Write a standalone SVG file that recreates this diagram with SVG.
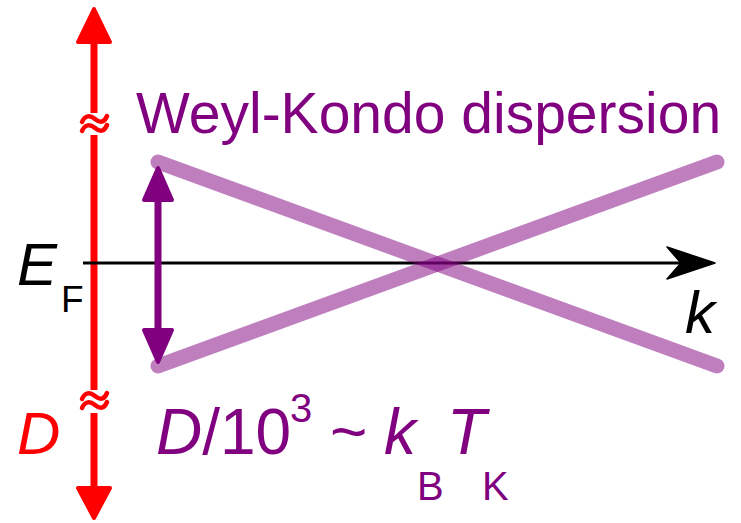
<svg xmlns="http://www.w3.org/2000/svg" width="741" height="523" viewBox="0 0 741 523">
<style>
text{font-family:"Liberation Sans",Arial,sans-serif}
.it{font-style:italic}
.pur{fill:#800080}
.red{fill:#ff0000}
.blk{fill:#000}
.band{fill:none;stroke:#800080;stroke-opacity:0.5;stroke-width:15;stroke-linecap:round}
.wave{fill:none;stroke:#ff0000;stroke-width:4.5;stroke-linecap:round}
</style>
<rect width="741" height="523" fill="#fff"/>
<g id="connectors">
<g id="energy-axis">
<line x1="94" y1="40" x2="94" y2="490" stroke="#ff0000" stroke-width="7"/>
<polygon points="94,9 78,42 110,42" fill="#ff0000" stroke="#ff0000" stroke-width="4" stroke-linejoin="round"/>
<polygon points="94,518 78,488 110,488" fill="#ff0000" stroke="#ff0000" stroke-width="4" stroke-linejoin="round"/>
<rect x="80" y="113" width="30" height="22" fill="#fff"/>
<path class="wave" d="M82,122 C85,115 90,115 95,119 S104,123 107,116"/>
<path class="wave" d="M82,131 C85,124 90,124 95,128 S104,132 107,125"/>
<rect x="80" y="390" width="30" height="23" fill="#fff"/>
<path class="wave" d="M82,399 C85,392 90,392 95,396 S104,400 107,393"/>
<path class="wave" d="M82,408 C85,401 90,401 95,405 S104,409 107,402"/>
</g>
<g id="k-axis">
<line x1="83" y1="263" x2="685" y2="263" stroke="#000" stroke-width="3"/>
<path d="M715,263 L667,247 L681,263 L667,279 Z" fill="#000" stroke="#000" stroke-width="1.5" stroke-linejoin="round"/>
</g>
<g id="gap-arrow">
<line x1="158" y1="195" x2="158" y2="335" stroke="#800080" stroke-width="7"/>
<polygon points="158,168 144,200 172,200" fill="#800080" stroke="#800080" stroke-width="4" stroke-linejoin="round"/>
<polygon points="158,362 144,330 172,330" fill="#800080" stroke="#800080" stroke-width="4" stroke-linejoin="round"/>
</g>
</g>
<g id="dispersion">
<path class="band" d="M158,162 L717,366"/>
<path class="band" d="M158,366 L717,162"/>
</g>
<g id="title"><text class="pur" x="136" y="133" font-size="57">Weyl-Kondo dispersion</text></g>
<g id="EF-label"><text class="blk" x="17" y="285" font-size="60"><tspan class="it">E</tspan></text><text class="blk" x="61" y="312" font-size="37">F</text></g>
<g id="k-label"><text class="blk it" x="685" y="333" font-size="60">k</text></g>
<g id="D-label"><text class="red it" x="17" y="454" font-size="60">D</text></g>
<g id="scale-label">
<text class="pur" x="156" y="454" font-size="64"><tspan class="it">D</tspan>/10</text>
<text class="pur" x="290" y="422" font-size="40">3</text>
<text class="pur" x="330" y="454" font-size="64">~</text>
<text class="pur it" x="384" y="454" font-size="64">k</text>
<text class="pur" x="417" y="500" font-size="40">B</text>
<text class="pur it" x="447" y="454" font-size="64">T</text>
<text class="pur" x="482" y="500" font-size="40">K</text>
</g>
</svg>
